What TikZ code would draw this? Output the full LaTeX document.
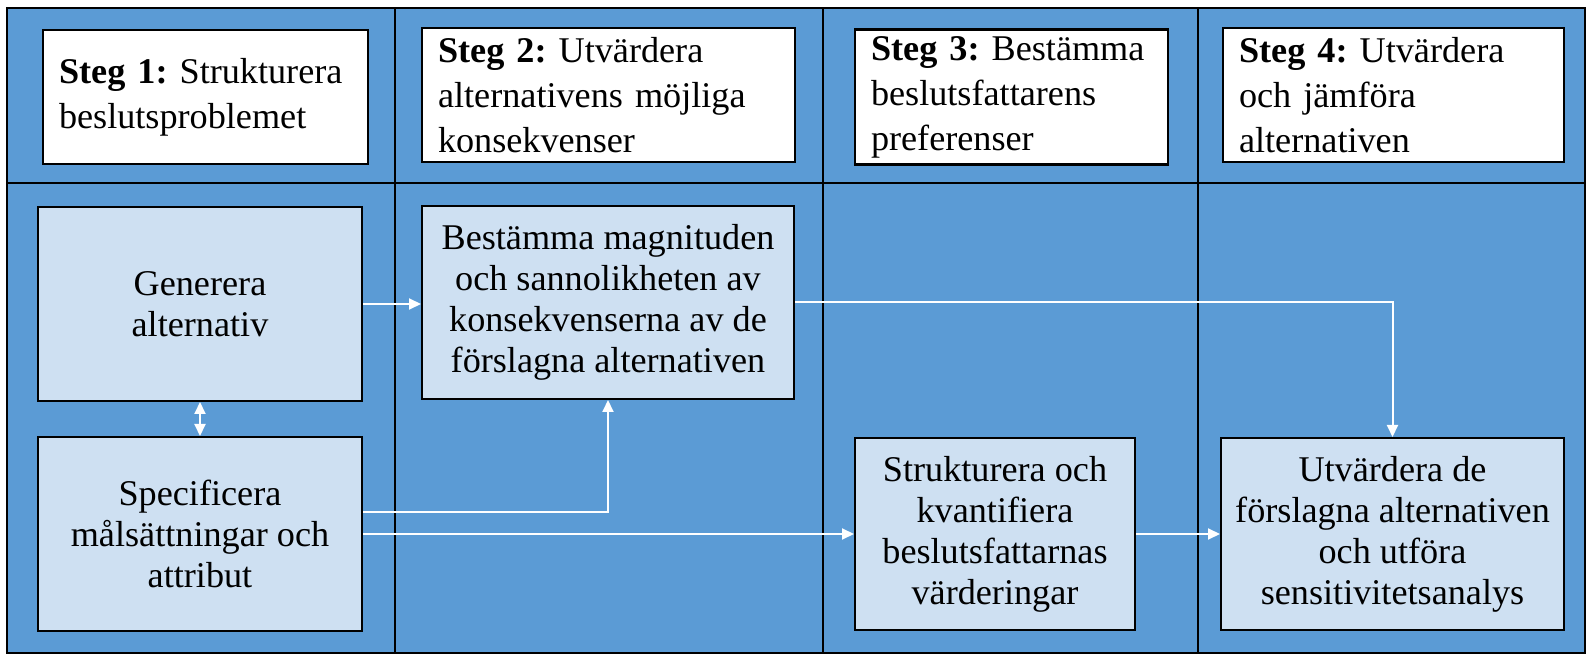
\documentclass[tikz,border=0pt]{standalone}
\usepackage{fontspec}
\setmainfont{Liberation Serif}
\usetikzlibrary{arrows.meta}
\definecolor{laneblue}{RGB}{91,155,213}
\definecolor{taskblue}{RGB}{206,224,242}
\newcommand{\headfont}{\fontsize{18.1}{22.5}\selectfont\frenchspacing\hyphenpenalty=10000\relax}

\begin{document}
\begin{tikzpicture}[
  x=0.5pt, y=-0.5pt, >={Triangle[length=6pt, width=5.5pt]},
  head/.style={draw, fill=white, line width=1.3pt, align=left, inner xsep=8pt,
               minimum height=67pt, font=\headfont},
  task/.style={draw, fill=taskblue, line width=1pt, align=center, inner sep=4pt,
               font=\fontsize{18.1}{20.5}\selectfont},
  flow/.style={->, draw=white, line width=1pt}
]
\fill[white] (0,0) rectangle (1592,663);
\useasboundingbox (0,0) rectangle (1592,663);
\draw[fill=laneblue, line width=1.2pt] (7,8) rectangle (1585,653);
\draw[line width=1.2pt] (7,183) -- (1585,183);
\foreach \x in {395,823,1198}
  \draw[line width=1.2pt] (\x,8) -- (\x,653);

\node[head, text width=146.5pt] (h1) at (205.5,97) {\textbf{Steg 1:} Strukturera\\beslutsproblemet};
\node[head, text width=170.5pt] (h2) at (608.5,95) {\textbf{Steg 2:} Utvärdera\\alternativens möjliga\\konsekvenser};
\node[head, text width=140.5pt] (h3) at (1011.5,97) {\textbf{Steg 3:} Bestämma\\beslutsfattarens\\preferenser};
\node[head, text width=154.5pt] (h4) at (1393.5,95) {\textbf{Steg 4:} Utvärdera\\och jämföra\\alternativen};

\node[task, minimum width=162pt, minimum height=97pt] (gen) at (200,304) {Generera\\alternativ};
\node[task, minimum width=162pt, minimum height=97pt] (spec) at (200,534) {Specificera\\målsättningar och\\attribut};
\node[task, minimum width=186pt, minimum height=96.5pt] (best) at (608,302.5) {Bestämma magnituden\\och sannolikheten av\\konsekvenserna av de\\förslagna alternativen};
\node[task, minimum width=140pt, minimum height=96pt] (strukt) at (995,534) {Strukturera och\\kvantifiera\\beslutsfattarnas\\värderingar};
\node[task, minimum width=171.5pt, minimum height=96pt] (utv) at (1392.5,534) {Utvärdera de\\förslagna alternativen\\och utföra\\sensitivitetsanalys};

\draw[flow] (gen.east) -- (gen.east -| best.west);
\draw[flow, <->] (gen.south) -- (spec.north);
\draw[flow] ([yshift=11pt]spec.east) -| (best.south);
\draw[flow] (spec.east) -- (strukt.west);
\draw[flow] (best.east) -| (utv.north);
\draw[flow] (strukt.east) -- (strukt.east -| utv.west);
\end{tikzpicture}
\end{document}
